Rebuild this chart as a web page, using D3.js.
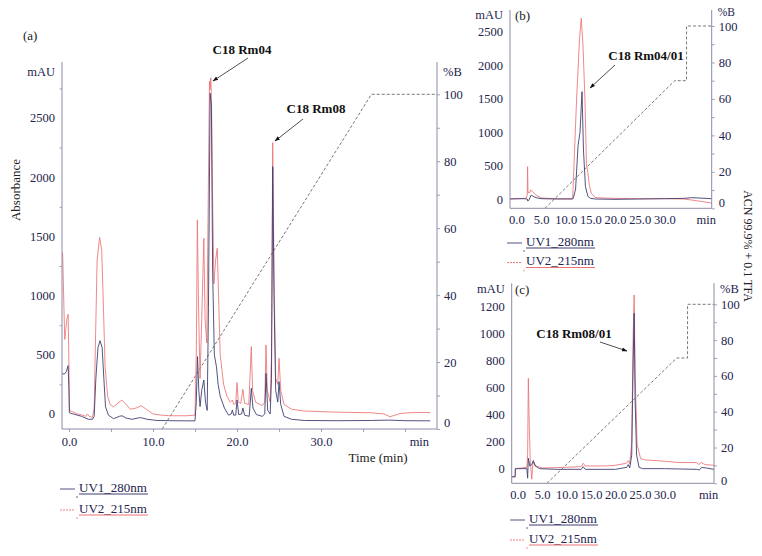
<!DOCTYPE html>
<html><head><meta charset="utf-8">
<script src="https://cdn.jsdelivr.net/npm/d3@7"></script>
<style>
body{margin:0;background:#fff}
svg{display:block}
text{font-family:"Liberation Serif","Times New Roman",serif}
</style></head><body>
<svg id="c" width="762" height="556"></svg>
<script>
// ---------------- DATA ----------------
// Panel (a)
const aUV1_t = [-0.83,-0.5,-0.3,-0.1,0.0,0.05,0.5,1.5,2.3,2.8,3.0,3.2,3.45,3.7,3.95,4.15,4.35,4.7,5.3,6.0,6.3,6.8,7.5,8.5,9.3,10.5,12,14,15.0,15.15,15.3,15.45,15.6,15.8,16.05,16.25,16.45,16.6,16.8,16.95,17.1,17.3,17.55,17.75,18.0,18.5,19.0,19.3,19.45,19.6,19.85,20.0,20.2,20.55,20.7,20.9,21.45,21.7,21.9,22.3,23.0,23.3,23.45,23.65,23.95,24.1,24.25,24.4,24.6,24.85,25.0,25.2,25.6,26.5,28,32,36,38,40,43];
const aUV1_v = [338,340,360,408,200,10,0,-20,-45,-45,-20,300,560,619,560,300,60,-10,-40,-20,-15,-35,-45,-30,-45,-55,-57,-58,-58,100,484,200,62,200,287,100,30,900,2709,2600,1200,500,400,250,150,50,-10,0,34,-10,-10,118,-5,0,50,-10,-20,217,50,-5,-20,0,343,30,0,300,2089,1000,200,100,273,80,-20,-45,-55,-57,-55,-52,-57,-58];
const aUV2_t = [-0.83,-0.75,-0.6,-0.5,-0.4,-0.25,-0.1,0.0,0.05,0.4,1.0,1.6,2.0,2.2,2.4,2.8,3.0,3.15,3.35,3.65,3.9,4.1,4.3,4.6,4.9,5.3,5.8,6.3,6.8,7.3,8.0,8.6,9.2,10.0,11.0,12,13,14,15.0,15.15,15.28,15.42,15.6,15.8,16.05,16.2,16.4,16.6,16.72,16.8,16.88,16.95,17.1,17.25,17.45,17.65,17.8,18.0,18.4,18.8,19.2,19.45,19.6,19.85,20.0,20.15,20.45,20.7,20.9,21.4,21.7,21.85,22.2,23.0,23.3,23.45,23.6,23.95,24.1,24.25,24.4,24.6,24.85,25.0,25.2,25.6,26.5,28,32,36,37.5,38.2,39.5,41,43];
const aUV2_v = [1370,1350,900,630,700,800,842,400,30,20,0,-10,-20,0,-20,-30,50,600,1300,1492,1380,900,400,150,80,60,90,118,80,40,50,70,40,0,-10,-15,-15,-15,-10,500,1640,900,300,800,1484,800,600,2000,2810,2740,2840,2700,1800,1100,1300,1400,1000,500,250,150,100,118,80,90,265,100,90,208,90,80,569,200,100,70,100,583,200,100,500,2292,1200,300,250,470,200,80,40,25,15,10,0,-23,5,12,12];
const aGrad_t = [11.1, 36.0, 43.8];
const aGrad_b = [0, 100, 100];
const aYTicks = [0,500,1000,1500,2000,2500];
const aXTicks = [0,10,20,30];
const aXTickLabels = ["0.0","10.0","20.0","30.0"];
const bTicksRight = [0,20,40,60,80,100];

// Panel (b)
const bUV1_t = [-1.3,1.5,2.2,2.3,2.5,3.0,3.4,4.0,5.0,8,11.4,11.6,12.0,12.5,12.9,13.1,13.3,13.6,14.0,14.5,15.0,16,20,25,30,34,35.5,37,39.6];
const bUV1_v = [0,5,0,-30,-20,60,40,20,5,0,0,30,150,800,1000,1300,1606,733,184,40,10,0,-5,0,5,10,20,15,5];
const bUV2_t = [-1.3,2.0,2.2,2.27,2.35,2.6,2.9,3.3,4.0,5.0,8,11.4,11.5,12.2,12.8,13.15,13.5,13.9,14.2,14.5,14.8,15.2,16,20,25,30,34,36,39.6];
const bUV2_v = [5,10,60,484,100,90,135,110,60,15,5,5,184,1482,2400,2705,2300,1482,534,380,200,85,20,10,5,5,0,-20,-60];
const bGrad_t = [5.8, 32.1, 34.5, 34.5, 39.6];
const bGrad_b = [0, 70, 70, 100, 100];
const bYTicks = [0,500,1000,1500,2000,2500];

// Panel (c)
const cUV1_t = [-1.2,-0.5,-0.45,1.9,2.05,2.2,2.5,2.9,3.2,3.6,4.5,8,13.0,13.4,13.8,20,22.3,22.6,22.9,23.3,23.6,23.8,24.0,24.3,24.8,25.5,30,36.5,37.1,37.6,38.5,40.1];
const cUV1_v = [-60,-60,0,0,-70,77,20,30,60,20,0,-5,-5,15,-5,-5,10,30,5,100,800,1147,500,100,10,0,0,-5,-10,10,5,-5];
const cUV2_t = [-1.2,-0.5,-0.45,1.9,2.05,2.2,2.4,2.6,2.9,3.1,3.3,3.7,5,10,13,13.4,13.8,18,20,22.2,22.6,22.9,23.3,23.6,23.8,24.0,24.4,25.1,26,30,33,36.5,37.0,37.5,38.3,40.1];
const cUV2_v = [-60,-60,0,10,100,667,300,50,-78,30,50,20,5,10,15,40,20,20,25,40,59,35,200,1000,1282,700,180,75,65,55,45,45,30,45,30,25];
const cGrad_t = [6.0, 32.5, 34.7, 34.7, 40.1];
const cGrad_b = [0, 70, 70, 100, 100];
const cYTicks = [0,200,400,600,800,1000,1200];
const bcXTicks = [0,5,10,15,20,25,30];
const bcXTickLabels = ["0.0","5.0","10.0","15.0","20.0","25.0","30.0"];

const seriesNames = ["UV1_280nm","UV2_215nm"];

// ---------------- DRAWING ----------------
const NAVY = "#3f3f74", RED = "#ec7274", AXIS = "#8a8aa6", TXT = "#23234d";
const svg = d3.select("#c");
const defs = svg.append("defs");
defs.append("marker").attr("id","arr").attr("viewBox","0 0 10 10").attr("refX",9).attr("refY",5)
  .attr("markerWidth",7).attr("markerHeight",7).attr("orient","auto")
  .append("path").attr("d","M0,1.5L10,5L0,8.5Z").attr("fill","#111");

function zip(t,v){ return t.map((d,i)=>[d,v[i]]); }

function panel(o){
  const g = svg.append("g");
  const x = d3.scaleLinear().domain(o.xDom).range([o.xl, o.xr]);
  const y = d3.scaleLinear().domain(o.yDom).range([o.yb, o.yt]);
  const yR = d3.scaleLinear().domain([0,100]).range([o.yb, o.y100]);
  const cid = "clip"+o.id;
  defs.append("clipPath").attr("id",cid).append("rect")
    .attr("x",o.xl).attr("y",o.yt-20).attr("width",o.xr-o.xl).attr("height",o.yb-o.yt+20);
  const plot = g.append("g").attr("clip-path",`url(#${cid})`);
  const line = d3.line().x(d=>x(d[0])).y(d=>y(d[1]));
  const lineR = d3.line().x(d=>x(d[0])).y(d=>yR(d[1]));
  plot.append("path").attr("d",lineR(zip(o.grad_t,o.grad_b))).attr("fill","none")
    .attr("stroke","#555").attr("stroke-width",0.8).attr("stroke-dasharray","3,2");
  plot.append("path").attr("d",line(zip(o.uv2_t,o.uv2_v))).attr("fill","none")
    .attr("stroke",RED).attr("stroke-width",0.85);
  plot.append("path").attr("d",line(zip(o.uv1_t,o.uv1_v))).attr("fill","none")
    .attr("stroke",NAVY).attr("stroke-width",0.9);

  // left axis
  const la = g.append("g").attr("transform",`translate(${o.xl},0)`)
    .call(d3.axisLeft(y).tickValues(o.yTicks).tickSize(0).tickPadding(7).tickFormat(d3.format("d")));
  la.select(".domain").remove();
  const lm = g.append("g").attr("transform",`translate(${o.xl},0)`)
    .call(d3.axisLeft(y).tickValues(o.yMinor).tickSize(2.5).tickFormat(""));
  lm.select(".domain").remove();
  // right axis
  const ra = g.append("g").attr("transform",`translate(${o.xr},0)`)
    .call(d3.axisRight(yR).tickValues(bTicksRight).tickSize(3).tickPadding(4).tickFormat(d3.format("d")));
  ra.select(".domain").remove();
  ra.selectAll(".tick").filter(d=>d===0).select("text").attr("transform",`translate(0,${-o.zeroShift})`);
  const rm = g.append("g").attr("transform",`translate(${o.xr},0)`)
    .call(d3.axisRight(yR).tickValues([10,30,50,70,90]).tickSize(3).tickFormat(""));
  rm.select(".domain").remove();
  // bottom axis
  const ba = g.append("g").attr("transform",`translate(0,${o.yb})`)
    .call(d3.axisBottom(x).tickValues(o.xTicks).tickSize(0).tickPadding(o.xPad).tickFormat((d,i)=>o.xLabels[i]));
  ba.select(".domain").remove();
  const bm = g.append("g").attr("transform",`translate(0,${o.yb})`)
    .call(d3.axisBottom(x).tickValues(o.xMinor).tickSize(3).tickFormat(""));
  bm.select(".domain").remove();
  g.selectAll(".tick text").attr("fill",TXT).style("font-size",o.fs+"px").style("font-family","Liberation Serif, serif");
  g.selectAll(".tick line").attr("stroke",AXIS).attr("stroke-width",0.8);
  // axis lines
  g.append("path").attr("d",`M${o.xl},${o.yt}V${o.yb}H${o.xr}V${o.yt}`)
    .attr("fill","none").attr("stroke",AXIS).attr("stroke-width",1);
  // units
  g.append("text").attr("x",o.xl-7).attr("y",o.mauY).attr("text-anchor","end").attr("dy","0.35em")
    .attr("fill",TXT).style("font-size",o.fs+"px").text("mAU");
  g.append("text").attr("x",o.xr+6).attr("y",o.pbY).attr("dy","0.35em")
    .attr("fill",TXT).style("font-size",o.pbFs+"px").text("%B");
  g.append("text").attr("x",x(o.minT)).attr("y",o.yb+o.xPad).attr("dy","0.71em").attr("text-anchor","middle")
    .attr("fill",TXT).style("font-size",o.fs+"px").text("min");
  // label
  g.append("text").attr("x",o.labX).attr("y",o.labY).attr("dy","0.35em")
    .attr("fill","#222").style("font-size","13px").text(o.label);
  // annotation
  g.append("text").attr("x",o.annX).attr("y",o.annY).attr("dy","0.35em").attr("text-anchor","middle")
    .attr("fill","#111").style("font-size","13px").style("font-weight","bold").text(o.ann);
  g.append("line").attr("x1",o.arr[0]).attr("y1",o.arr[1]).attr("x2",o.arr[2]).attr("y2",o.arr[3])
    .attr("stroke","#222").attr("stroke-width",0.8).attr("marker-end","url(#arr)");
  if(o.ann2){
    g.append("text").attr("x",o.ann2X).attr("y",o.ann2Y).attr("dy","0.35em").attr("text-anchor","middle")
      .attr("fill","#111").style("font-size","13px").style("font-weight","bold").text(o.ann2);
    g.append("line").attr("x1",o.arr2[0]).attr("y1",o.arr2[1]).attr("x2",o.arr2[2]).attr("y2",o.arr2[3])
      .attr("stroke","#222").attr("stroke-width",0.8).attr("marker-end","url(#arr)");
  }
  // legend
  const cols = [NAVY, RED];
  seriesNames.forEach((s,i)=>{
    const ly = o.legY + i*o.legDy;
    g.append("line").attr("x1",o.legX).attr("x2",o.legX+15).attr("y1",ly+2).attr("y2",ly+2)
      .attr("stroke",cols[i]).attr("stroke-width",0.9).attr("stroke-dasharray", i? "2,1":null);
    g.append("text").attr("x",o.legX+19).attr("y",ly).attr("dy","0.35em")
      .attr("fill",TXT).style("font-size","13px").text(s);
    g.append("line").attr("x1",o.legX+19).attr("x2",o.legX+19+69).attr("y1",ly+7).attr("y2",ly+7)
      .attr("stroke",cols[i]).attr("stroke-width",1);
    g.append("line").attr("x1",o.legX+17).attr("x2",o.legX+17).attr("y1",ly+9).attr("y2",ly+11)
      .attr("stroke",cols[i]).attr("stroke-width",0.8);
  });
}

panel({id:"a", xDom:[-0.83,43.8], xl:62, xr:437, yDom:[-127,2973], yb:429, yt:62, y100:94.3,
  uv1_t:aUV1_t, uv1_v:aUV1_v, uv2_t:aUV2_t, uv2_v:aUV2_v, grad_t:aGrad_t, grad_b:aGrad_b,
  yTicks:aYTicks, yMinor:[250,750,1250,1750,2250,2750], xTicks:aXTicks, xLabels:aXTickLabels,
  xMinor:[0,5,10,15,20,25,30,35,40], xPad:8, fs:12.5, zeroShift:7, mauY:72, pbY:72, pbFs:12.5, minT:41.7,
  label:"(a)", labX:23, labY:35,
  ann:"C18 Rm04", annX:242, annY:49, arr:[248,58,213,81],
  ann2:"C18 Rm08", ann2X:316, ann2Y:108, arr2:[303,119,275,141],
  legX:60, legY:487, legDy:21});

panel({id:"b", xDom:[-1.3,39.6], xl:510, xr:711.7, yDom:[-139,2829], yb:208.3, yt:10, y100:26,
  uv1_t:bUV1_t, uv1_v:bUV1_v, uv2_t:bUV2_t, uv2_v:bUV2_v, grad_t:bGrad_t, grad_b:bGrad_b,
  yTicks:bYTicks, yMinor:[], xTicks:bcXTicks, xLabels:bcXTickLabels,
  xMinor:[], xPad:7, fs:12.5, zeroShift:6, mauY:15, pbY:12, pbFs:11.5, minT:38.5,
  label:"(b)", labX:515, labY:15,
  ann:"C18 Rm04/01", annX:646, annY:55, arr:[615,65,590,88],
  legX:507, legY:241, legDy:19.5});

panel({id:"c", xDom:[-1.2,40.1], xl:511.7, xr:714, yDom:[-108,1368], yb:483.3, yt:283.3, y100:304.3,
  uv1_t:cUV1_t, uv1_v:cUV1_v, uv2_t:cUV2_t, uv2_v:cUV2_v, grad_t:cGrad_t, grad_b:cGrad_b,
  yTicks:cYTicks, yMinor:[], xTicks:bcXTicks, xLabels:bcXTickLabels,
  xMinor:[], xPad:7, fs:12.5, zeroShift:3, mauY:289, pbY:289, pbFs:12.5, minT:39,
  label:"(c)", labX:515, labY:289,
  ann:"C18 Rm08/01", annX:574, annY:333, arr:[600,342,627,351],
  legX:510, legY:518, legDy:20});

svg.append("text").attr("transform","translate(15,190) rotate(-90)").attr("text-anchor","middle").attr("dy","0.35em")
  .attr("fill","#222").style("font-size","13px").text("Absorbance");
svg.append("text").attr("x",378).attr("y",457).attr("text-anchor","middle").attr("dy","0.35em")
  .attr("fill","#222").style("font-size","13px").text("Time (min)");
svg.append("text").attr("transform","translate(748,246) rotate(90)").attr("text-anchor","middle").attr("dy","0.35em")
  .attr("fill","#222").style("font-size","12px").text("ACN 99.9% + 0.1 TFA");
</script>
</body></html>
